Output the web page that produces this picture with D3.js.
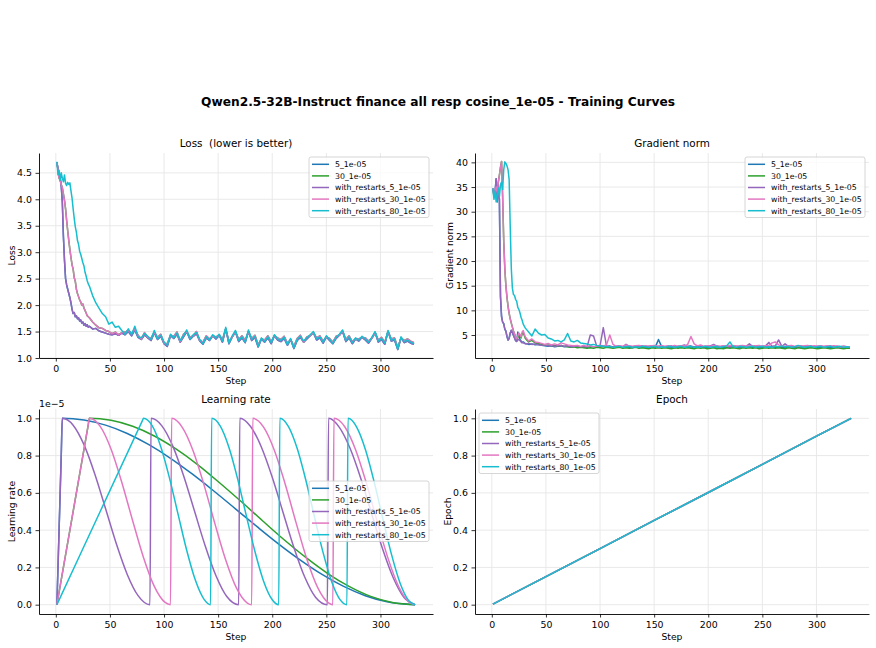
<!DOCTYPE html>
<html><head><meta charset="utf-8">
<script src="https://cdn.jsdelivr.net/npm/d3@7"></script>
<style>body{margin:0;background:#fff} text{font-family:"DejaVu Sans",sans-serif;fill:#000;white-space:pre}</style>
</head><body><svg id="c" width="876" height="648"></svg>
<script>
// ---------------- DATA ----------------
const suptitle = "Qwen2.5-32B-Instruct finance all resp cosine_1e-05 - Training Curves";
const seriesNames = ["5_1e-05","30_1e-05","with_restarts_5_1e-05","with_restarts_30_1e-05","with_restarts_80_1e-05"];
const seriesColors = ["#1f77b4","#2ca02c","#9467bd","#e377c2","#17becf"];
const xTicks = [0,50,100,150,200,250,300];
const lossTicks = [1.0,1.5,2.0,2.5,3.0,3.5,4.0,4.5];
const gradTicks = [5,10,15,20,25,30,35,40];
const unitTicks = [0.0,0.2,0.4,0.6,0.8,1.0];

// logged steps: every step 1..30, then every 3rd step 31..331
const stepsHead = [1,2,3,4,5,6,7,8,9,10,11,12,13,14,15,16,17,18,19,20,21,22,23,24,25,26,27,28,29,30];
const stepsTail = d3.range(31, 332, 3);
const steps = stepsHead.concat(stepsTail);

// Loss: first 40 logged points per series (steps 1..30, 31..58)
const lossHead5   = [4.70,4.58,4.45,4.42,4.25,3.95,3.30,2.85,2.50,2.38,2.30,2.22,2.14,2.04,1.92,1.84,1.86,1.78,1.80,1.74,1.76,1.70,1.72,1.66,1.68,1.62,1.65,1.60,1.63,1.58, 1.60,1.55,1.56,1.51,1.49,1.47,1.45,1.44,1.46,1.43];
const lossHead30  = [4.70,4.55,4.40,4.36,4.28,4.22,4.10,3.98,3.82,3.60,3.40,3.22,3.05,2.90,2.76,2.68,2.52,2.45,2.30,2.22,2.16,2.10,2.06,2.00,2.02,1.94,1.90,1.85,1.80,1.78, 1.76,1.68,1.62,1.57,1.56,1.52,1.50,1.46,1.49,1.44];
const lossHeadW5  = [4.70,4.58,4.45,4.42,4.25,3.95,3.30,2.85,2.50,2.38,2.30,2.22,2.14,2.04,1.92,1.84,1.86,1.78,1.80,1.74,1.76,1.70,1.72,1.66,1.68,1.62,1.65,1.60,1.63,1.58, 1.60,1.55,1.56,1.51,1.49,1.47,1.45,1.44,1.46,1.43];
const lossHeadW30 = [4.70,4.55,4.40,4.36,4.28,4.22,4.10,3.98,3.82,3.60,3.40,3.22,3.05,2.90,2.76,2.68,2.52,2.45,2.30,2.22,2.16,2.10,2.06,2.00,2.02,1.94,1.90,1.85,1.80,1.78, 1.76,1.68,1.62,1.57,1.56,1.52,1.50,1.46,1.49,1.44];
const lossHeadW80 = [4.71,4.46,4.55,4.36,4.50,4.40,4.33,4.46,4.30,4.26,4.32,4.28,4.31,4.16,4.02,3.82,3.64,3.48,3.38,3.22,3.15,3.02,2.96,2.88,2.80,2.74,2.62,2.55,2.46,2.40, 2.36,2.18,2.04,1.94,1.84,1.78,1.64,1.68,1.58,1.60];
// Loss from step 61 to 331 (runs nearly coincide)
const lossTail5 = [1.47,1.44,1.50,1.42,1.53,1.39,1.35,1.44,1.38,1.33,
  1.48,1.35,1.41,1.27,1.22,1.42,1.37,1.45,1.30,1.40,
  1.50,1.35,1.41,1.46,1.32,1.26,1.38,1.33,1.42,1.36,
  1.43,1.30,1.55,1.27,1.40,1.49,1.31,1.38,1.29,1.50,
  1.33,1.39,1.21,1.36,1.30,1.38,1.27,1.42,1.34,1.31,
  1.37,1.24,1.35,1.18,1.33,1.39,1.30,1.36,1.42,1.48,
  1.34,1.38,1.28,1.40,1.33,1.27,1.37,1.43,1.50,1.31,
  1.38,1.27,1.36,1.32,1.39,1.34,1.28,1.37,1.48,1.30,
  1.35,1.26,1.50,1.32,1.34,1.16,1.38,1.29,1.32,1.28,1.26];
const lossTail30 = [1.48,1.49,1.52,1.47,1.55,1.43,1.36,1.48,1.39,1.37,
  1.49,1.39,1.45,1.28,1.27,1.43,1.41,1.49,1.31,1.45,
  1.50,1.39,1.42,1.50,1.33,1.30,1.42,1.36,1.41,1.40,
  1.43,1.35,1.55,1.31,1.40,1.50,1.35,1.42,1.33,1.50,
  1.37,1.43,1.25,1.36,1.34,1.42,1.31,1.42,1.38,1.35,
  1.41,1.28,1.35,1.22,1.37,1.43,1.30,1.40,1.42,1.48,
  1.38,1.42,1.32,1.40,1.37,1.30,1.41,1.43,1.51,1.35,
  1.42,1.31,1.36,1.36,1.39,1.38,1.32,1.37,1.48,1.34,
  1.39,1.30,1.50,1.36,1.38,1.20,1.38,1.33,1.36,1.32,1.29];
const lossTail80 = [1.52,1.45,1.55,1.44,1.60,1.40,1.38,1.46,1.41,1.35,
  1.52,1.36,1.43,1.30,1.24,1.45,1.38,1.47,1.33,1.42,
  1.53,1.36,1.44,1.48,1.35,1.27,1.40,1.34,1.44,1.38,
  1.45,1.32,1.58,1.28,1.42,1.52,1.33,1.40,1.30,1.53,
  1.35,1.41,1.22,1.38,1.31,1.40,1.29,1.44,1.36,1.33,
  1.39,1.25,1.37,1.19,1.35,1.41,1.32,1.38,1.44,1.50,
  1.36,1.40,1.30,1.42,1.35,1.28,1.39,1.45,1.53,1.33,
  1.40,1.29,1.38,1.34,1.41,1.36,1.30,1.39,1.50,1.32,
  1.37,1.28,1.52,1.34,1.36,1.17,1.40,1.31,1.34,1.30,1.27];

// Gradient norm per series (steps 1..30 then 31..331 every 3)
const grad5 = [34.7,33.5,34.0,36.7,32.0,35.3,32.5,12.8,8.7,7.6,7.3,6.2,5.8,4.7,4.0,4.3,5.4,5.9,5.4,4.9,4.4,3.9,3.7,5.6,4.8,4.1,3.8,3.5,3.6,3.4,
  3.3,3.1,3.2,3.0,3.1,2.9,2.8,2.7,2.8,2.6, 2.7,2.8,2.6,2.7,2.5,2.6,2.7,2.5,2.6,2.5,
  2.7,2.6,2.5,2.6,2.7,2.5,2.6,2.5,2.6,2.7, 2.5,2.6,2.5,2.4,2.6,2.5,2.6,2.5,2.4,2.6,
  2.5,4.1,2.6,2.5,2.6,2.5,2.4,2.6,2.5,2.6, 2.5,2.6,2.4,2.5,2.6,2.5,2.4,2.6,2.5,2.6,
  2.5,2.4,2.6,2.5,2.6,2.5,2.4,2.6,2.5,2.6, 2.5,2.6,2.4,2.5,2.6,2.5,2.6,2.5,2.6,2.5,
  2.4,2.6,2.5,2.4,2.6,2.5,2.4,2.5,2.6,2.5, 2.4,2.5,2.6,2.5,2.4,2.5,2.6,2.5,2.4,2.5, 2.5];
const grad30 = [34.7,33.0,33.8,35.0,34.0,36.0,37.4,39.0,40.2,33.0,24.0,18.5,15.0,12.6,10.8,9.4,8.3,7.4,6.6,5.8,5.2,4.6,4.2,4.5,5.0,4.8,4.4,5.2,5.5,4.9,
  4.3,3.6,3.9,3.4,3.3,3.1,2.9,3.0,2.8,2.9, 2.7,2.9,2.7,2.6,2.5,2.6,2.4,2.5,2.4,2.3,
  2.4,2.3,2.5,2.4,2.3,2.5,2.4,2.3,2.4,2.5, 2.3,2.4,2.3,2.4,2.5,2.3,2.4,2.3,2.2,2.4,
  2.3,2.4,2.3,2.4,2.3,2.2,2.4,2.3,2.4,2.3, 2.4,2.3,2.2,2.4,2.3,2.4,2.2,2.3,2.4,2.2,
  2.3,2.2,2.4,2.3,2.4,2.3,2.2,2.4,2.3,2.4, 2.3,2.4,2.2,2.3,2.4,2.3,2.4,2.3,2.4,2.3,
  2.2,2.4,2.3,2.2,2.4,2.3,2.2,2.3,2.4,2.3, 2.2,2.3,2.4,2.3,2.2,2.3,2.4,2.3,2.2,2.3, 2.3];
const gradW5 = [34.7,33.5,34.0,36.7,32.0,35.3,32.5,12.8,8.7,7.6,7.3,6.2,5.8,4.7,4.0,4.3,5.4,6.0,5.6,5.0,4.4,3.8,3.7,4.2,4.0,3.9,3.6,3.4,3.5,3.3,
  3.2,3.3,3.1,3.2,3.0,2.9,3.0,2.8,2.9,2.7, 2.8,2.9,2.7,2.8,2.6,2.7,2.8,2.6,2.7,2.6,
  5.0,4.8,2.7,2.8,6.5,2.7,2.8,2.6,2.7,2.8, 2.6,3.1,2.7,2.6,2.8,2.7,2.8,2.6,2.7,2.8,
  2.6,2.7,2.8,2.6,2.7,2.8,2.6,2.7,2.8,3.0, 2.7,2.8,2.6,2.7,2.8,2.6,2.7,2.8,3.1,2.7,
  2.6,2.8,2.7,2.6,2.8,2.7,2.6,2.8,2.7,3.2, 2.7,2.8,2.6,2.7,2.8,3.5,2.7,2.8,4.0,2.7,
  3.2,2.7,2.8,2.6,2.7,2.8,2.6,2.7,2.8,2.6, 2.7,2.8,2.6,2.7,2.8,2.6,2.7,2.6,2.7,2.6, 2.6];
const gradW30 = [34.7,33.0,33.8,35.0,34.0,36.0,37.4,39.0,40.2,33.0,24.0,18.5,15.0,12.6,10.8,9.4,8.3,7.4,6.6,5.8,5.2,4.6,4.2,4.8,5.4,5.1,4.6,5.6,5.9,5.2,
  4.6,3.8,4.2,3.6,3.5,3.3,3.1,3.3,3.0,3.2, 3.0,3.4,3.2,3.0,2.9,2.8,2.9,2.7,2.9,2.7,
  2.8,2.6,2.8,2.9,2.8,3.0,5.0,3.1,2.7,2.8, 2.7,3.0,2.8,2.7,2.8,2.9,2.7,2.8,2.7,2.8,
  2.9,2.7,2.8,2.7,2.8,2.7,2.9,2.7,2.8,2.7, 3.1,4.7,3.2,2.8,3.0,2.7,2.8,2.7,2.9,2.8,
  2.7,2.8,2.7,2.9,2.8,2.7,2.8,2.9,2.7,2.8, 2.7,2.8,2.9,2.7,2.8,2.9,3.4,3.6,3.0,2.8,
  2.7,2.8,2.9,2.7,2.8,2.7,2.8,2.9,2.7,2.8, 2.7,2.8,2.7,2.8,2.7,2.8,2.7,2.6,2.7,2.6, 2.6];
const gradW80 = [34.7,32.5,34.2,32.0,33.5,34.8,33.0,35.5,36.0,34.5,38.5,40.1,39.8,39.3,38.5,36.5,27.0,18.5,14.5,13.2,13.0,12.2,11.8,10.6,10.2,9.5,8.6,8.0,7.2,6.8,
  6.4,5.6,4.8,6.2,5.4,5.0,5.1,4.4,4.2,3.8, 3.9,3.6,4.0,5.3,3.8,3.6,3.9,3.4,3.3,3.2,
  3.0,3.1,2.9,2.8,2.7,2.6,2.7,2.5,2.6,2.7, 2.5,2.6,2.7,2.5,2.6,2.5,2.7,2.6,2.5,2.6,
  2.7,2.5,2.6,2.5,2.7,2.6,2.5,2.6,2.7,2.5, 2.6,2.7,2.5,2.6,2.5,2.7,2.6,2.5,2.6,2.7,
  2.5,2.6,2.8,3.6,2.6,2.5,2.7,2.6,2.5,2.6, 2.7,2.5,2.6,2.7,2.5,2.6,2.5,2.7,2.6,2.8,
  2.6,2.7,2.5,2.6,2.9,2.6,2.5,2.6,2.7,2.5, 2.6,2.7,2.5,2.6,2.7,2.5,2.6,2.7,2.5,2.6, 2.5];

// Learning rate, in units of 1e-5: [step, value]
const lr5 = [[1,0],[5,0.8],[6,1],[26,0.9907],[46,0.9633],[66,0.9188],[86,0.8586],[106,0.7855],[126,0.7014],[146,0.6099],[166,0.5144],[186,0.4185],[206,0.3254],[226,0.2392],[246,0.1624],[266,0.0980],[286,0.0483],[306,0.0157],[332,0]];
const lr30 = [[1,0],[30,0.9667],[31,1],[51,0.9892],[71,0.9571],[91,0.9052],[111,0.8357],[131,0.7517],[151,0.6557],[171,0.5547],[191,0.4505],[211,0.3484],[231,0.2534],[251,0.1685],[271,0.0982],[291,0.0444],[311,0.0120],[332,0]];
const lrW5 = [[1,0],[5,0.8],[6,1],[16,0.9633],[26,0.8586],[36,0.7014],[46,0.5144],[56,0.3254],[66,0.1624],[76,0.0483],[87,0],[88,1],[98,0.9596],[108,0.8519],[118,0.6931],[128,0.5049],[138,0.3164],[148,0.1553],[158,0.0436],[169,0],[170,1],[180,0.9557],[190,0.8449],[200,0.6838],[210,0.4951],[220,0.3073],[230,0.1485],[240,0.0400],[251,0],[252,1],[262,0.9516],[272,0.8378],[282,0.6748],[292,0.4856],[302,0.2988],[312,0.1418],[322,0.0368],[332,0]];
const lrW30 = [[1,0],[30,0.9667],[31,1],[41,0.9571],[51,0.8357],[61,0.6557],[71,0.4505],[81,0.2534],[91,0.0982],[101,0.0120],[106,0],[107,1],[117,0.9505],[127,0.8238],[137,0.6416],[147,0.4349],[157,0.2398],[167,0.0887],[177,0.0088],[181,0],[182,1],[192,0.9527],[202,0.8278],[212,0.6465],[222,0.4401],[232,0.2440],[242,0.0918],[252,0.0098],[256,0],[257,1],[267,0.9549],[277,0.8317],[287,0.6515],[297,0.4453],[307,0.2484],[317,0.0949],[327,0.0109],[332,0]];
const lrW80 = [[1,0],[41,0.5],[80,0.9875],[81,1],[89,0.9605],[97,0.8479],[105,0.6807],[113,0.4843],[121,0.2908],[129,0.1305],[137,0.0285],[143,0],[144,1],[152,0.958],[160,0.8435],[168,0.6749],[176,0.4782],[184,0.2851],[192,0.1263],[200,0.0264],[206,0],[207,1],[215,0.9554],[223,0.8389],[231,0.669],[239,0.4719],[247,0.2795],[255,0.1222],[263,0.0245],[269,0],[270,1],[278,0.9528],[286,0.8343],[294,0.6631],[302,0.4656],[310,0.2738],[318,0.1181],[326,0.0225],[332,0]];

// Epoch: [step, epoch]
const epochPts = [[1,0.003],[50,0.151],[100,0.301],[150,0.452],[200,0.602],[250,0.753],[300,0.904],[332,1.0]];

// ---------------- DRAW ----------------
const svg = d3.select("#c");
const FS_TICK = 9.4, FS_LAB = 9.2, FS_TITLE = 10.4, FS_LEG = 7.8;

svg.append("text").attr("x", 438).attr("y", 105.5).attr("text-anchor","middle")
  .style("font-weight","bold").style("font-size","12.2px").text(suptitle);

const pair = (xs, ys) => xs.map((s,i)=>[s, ys[i]]);
const lossSeries = [
  pair(steps, lossHead5.concat(lossTail5)),
  pair(steps, lossHead30.concat(lossTail30)),
  pair(steps, lossHeadW5.concat(lossTail5)),
  pair(steps, lossHeadW30.concat(lossTail30)),
  pair(steps, lossHeadW80.concat(lossTail80))
];
const gradSeries = [grad5, grad30, gradW5, gradW30, gradW80].map(g => pair(steps, g));
const lrSeries = [lr5, lr30, lrW5, lrW30, lrW80];
const epochSeries = seriesNames.map(() => epochPts);

function panel(o) {
  const g = svg.append("g");
  const x = d3.scaleLinear().domain([-15.55, 348.55]).range([o.left, o.right]);
  const y = d3.scaleLinear().domain(o.ydom).range([o.bottom, o.top]);
  g.append("g").selectAll("line").data(xTicks).join("line")
    .attr("x1", d=>x(d)).attr("x2", d=>x(d)).attr("y1", o.top).attr("y2", o.bottom)
    .attr("stroke", "#e6e6e6").attr("stroke-width", 0.9);
  g.append("g").selectAll("line").data(o.yticks).join("line")
    .attr("y1", d=>y(d)).attr("y2", d=>y(d)).attr("x1", o.left).attr("x2", o.right)
    .attr("stroke", "#e6e6e6").attr("stroke-width", 0.9);
  const line = d3.line().x(d=>x(d[0])).y(d=>y(d[1])).curve(o.curve || d3.curveLinear);
  o.series.forEach((s, i) => {
    g.append("path").datum(s).attr("d", line).attr("fill","none")
      .attr("stroke", seriesColors[i]).attr("stroke-width", 1.5)
      .attr("stroke-linejoin","round").attr("stroke-linecap","butt");
  });
  const xa = g.append("g").attr("transform", `translate(0,${o.bottom})`)
    .call(d3.axisBottom(x).tickValues(xTicks).tickFormat(d3.format("d")).tickSize(3.5).tickPadding(3.5).tickSizeOuter(0));
  const ya = g.append("g").attr("transform", `translate(${o.left},0)`)
    .call(d3.axisLeft(y).tickValues(o.yticks).tickFormat(o.yfmt).tickSize(3.5).tickPadding(3.5).tickSizeOuter(0));
  [xa, ya].forEach(a => {
    a.selectAll("text").style("font-size", FS_TICK+"px").style("font-family","DejaVu Sans").attr("fill","#000");
    a.selectAll("line").attr("stroke","#000").attr("stroke-width",0.8);
    a.select(".domain").attr("stroke","#000").attr("stroke-width",0.9);
  });
  g.append("text").attr("x", (o.left+o.right)/2).attr("y", o.top - 5.6).attr("text-anchor","middle")
    .style("font-size", FS_TITLE+"px").text(o.title);
  g.append("text").attr("x", (o.left+o.right)/2).attr("y", o.bottom + 26)
    .attr("text-anchor","middle").style("font-size", FS_LAB+"px").text(o.xlabel);
  g.append("text").attr("transform", `translate(${o.ylabelX},${(o.top+o.bottom)/2}) rotate(-90)`)
    .attr("text-anchor","middle").style("font-size", FS_LAB+"px").text(o.ylabel);
  const L = o.legend;
  const lg = g.append("g");
  lg.append("rect").attr("x", L.x).attr("y", L.y).attr("width", 120).attr("height", 60.5).attr("rx", 2)
    .attr("fill","#fff").attr("fill-opacity",0.8).attr("stroke","#cccccc").attr("stroke-width",0.8);
  seriesNames.forEach((n, i) => {
    const cy = L.y + 7.3 + i*11.6;
    lg.append("line").attr("x1", L.x+3).attr("x2", L.x+20).attr("y1", cy).attr("y2", cy)
      .attr("stroke", seriesColors[i]).attr("stroke-width", 1.5);
    lg.append("text").attr("x", L.x+26).attr("y", cy + 2.8).style("font-size", FS_LEG+"px").text(n);
  });
  return g;
}

panel({left:39, right:433, top:153, bottom:358, ydom:[1.0, 4.875], yticks:lossTicks, yfmt:d3.format(".1f"),
  series:lossSeries, title:"Loss  (lower is better)", xlabel:"Step", ylabel:"Loss", ylabelX:14.8,
  legend:{x:309, y:157}});
panel({left:475, right:869, top:153, bottom:358, ydom:[0.34, 41.9], yticks:gradTicks, yfmt:d3.format("d"),
  series:gradSeries, title:"Gradient norm", xlabel:"Step", ylabel:"Gradient norm", ylabelX:452.5,
  legend:{x:745, y:157}});
panel({left:39, right:433, top:409, bottom:614, ydom:[-0.05, 1.05], yticks:unitTicks, yfmt:d3.format(".1f"),
  series:lrSeries, curve:d3.curveMonotoneX, title:"Learning rate", xlabel:"Step", ylabel:"Learning rate", ylabelX:15,
  legend:{x:309, y:481}});
panel({left:475, right:869, top:409, bottom:614, ydom:[-0.05, 1.05], yticks:unitTicks, yfmt:d3.format(".1f"),
  series:epochSeries, title:"Epoch", xlabel:"Step", ylabel:"Epoch", ylabelX:451,
  legend:{x:479, y:413}});

svg.append("text").attr("x", 39).attr("y", 406.5).style("font-size", FS_TICK+"px").text("1e\u22125");
</script></body></html>
